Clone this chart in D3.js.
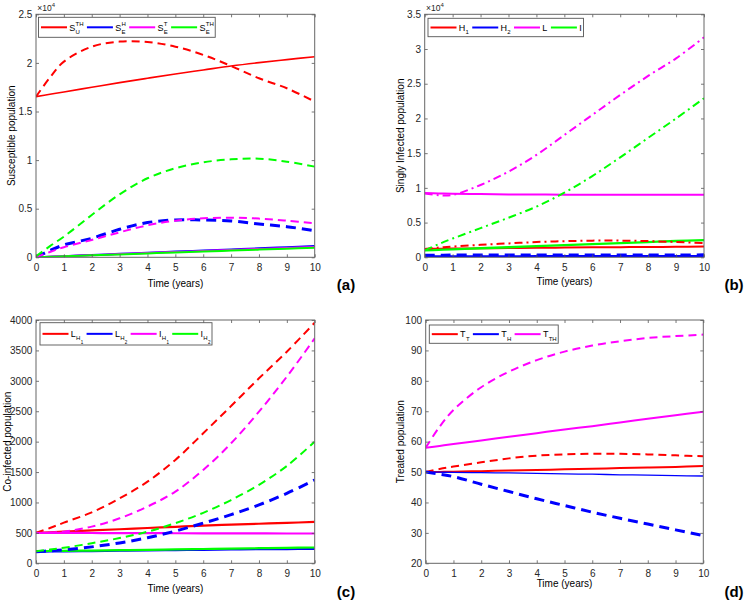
<!DOCTYPE html>
<html><head><meta charset="utf-8">
<script src="https://cdn.jsdelivr.net/npm/d3@7"></script>
<style>body{margin:0;background:#fff} svg{display:block} text{font-family:"Liberation Sans", Arial, Helvetica, sans-serif;}</style>
</head><body>
<svg id="chart" width="746" height="600"></svg>
<script>
// time grid (years)
const t = [0, 0.5, 1, 2, 3, 4, 5, 6, 7, 8, 9, 10];
const xTicks = [0,1,2,3,4,5,6,7,8,9,10];

// Panel (a) Susceptible population
const aYTicks = [0, 5000, 10000, 15000, 20000, 25000];
const aSUsolid  = [16530, 16770, 17010, 17490, 17970, 18420, 18860, 19270, 19680, 20030, 20340, 20640];
const aSEHsolid = [0, 60, 120, 240, 360, 480, 590, 700, 810, 920, 1040, 1160];
const aSETsolid = [0, 55, 110, 220, 330, 440, 545, 650, 760, 860, 960, 1060];
const aSETHsolid= [0, 50, 100, 200, 300, 400, 500, 590, 690, 790, 890, 990];
const aSUdash   = [16530, 18500, 20130, 21670, 22190, 22150, 21670, 20820, 19680, 18420, 17390, 16020];
const aSEHdash  = [0, 700, 1270, 1955, 2880, 3570, 3840, 3840, 3740, 3430, 3150, 2740];
const aSETdash  = [0, 550, 1030, 1780, 2570, 3290, 3770, 4010, 4080, 3980, 3770, 3500];
const aSETHdash = [100, 1150, 2126, 4355, 6480, 8130, 9160, 9770, 10080, 10150, 9840, 9330];

// Panel (b) Singly infected population
const bYTicks = [0, 5000, 10000, 15000, 20000, 25000, 30000, 35000];
const bH1solid = [1200, 1225, 1250, 1290, 1330, 1370, 1400, 1430, 1460, 1490, 1510, 1540];
const bH2solid = [150, 150, 155, 160, 165, 170, 172, 175, 178, 180, 180, 180];
const bLsolid  = [9250, 9200, 9150, 9100, 9060, 9040, 9020, 9010, 9000, 9000, 9000, 9000];
const bIsolid  = [1000, 1075, 1150, 1300, 1450, 1600, 1750, 1900, 2050, 2200, 2350, 2480];
const bH1dash  = [1200, 1400, 1550, 1800, 2000, 2200, 2320, 2400, 2400, 2330, 2200, 2050];
const bH2dash  = [300, 310, 315, 320, 325, 330, 335, 340, 340, 345, 345, 350];
const bLdash   = [9200, 8950, 8980, 10420, 12340, 14740, 17620, 20500, 23380, 26120, 28660, 31680];
const bIdash   = [1000, 1900, 2700, 4200, 5700, 7300, 9300, 11700, 14400, 17200, 20000, 22900];

// Panel (c) Co-infected population
const cYTicks = [0, 500, 1000, 1500, 2000, 2500, 3000, 3500, 4000];
const cLH1solid = [500, 510, 520, 540, 560, 580, 600, 620, 635, 650, 665, 680];
const cLH2solid = [190, 192, 195, 200, 205, 210, 215, 220, 225, 230, 233, 237];
const cIH1solid = [500, 500, 500, 498, 496, 495, 494, 493, 492, 491, 490, 490];
const cIH2solid = [200, 202, 205, 210, 215, 220, 228, 235, 242, 248, 254, 260];
const cLH1dash  = [500, 580, 668, 838, 1068, 1342, 1699, 2137, 2586, 3041, 3479, 3956];
const cLH2dash  = [190, 205, 220, 270, 335, 420, 530, 660, 800, 960, 1150, 1370];
const cIH1dash  = [500, 505, 520, 603, 740, 932, 1178, 1534, 1973, 2493, 3068, 3699];
const cIH2dash  = [200, 225, 255, 330, 415, 520, 660, 830, 1040, 1290, 1600, 2000];

// Panel (d) Treated population
const dYTicks = [20, 30, 40, 50, 60, 70, 80, 90, 100];
const dTTsolid  = [50, 50.05, 50.1, 50.3, 50.5, 50.7, 50.9, 51.1, 51.3, 51.5, 51.7, 52];
const dTHsolid  = [50, 49.95, 49.9, 49.8, 49.7, 49.6, 49.4, 49.3, 49.1, 49, 48.8, 48.7];
const dTTHsolid = [58, 58.6, 59.2, 60.4, 61.6, 62.8, 64, 65.1, 66.3, 67.5, 68.7, 69.8];
const dTTdash   = [50, 51, 51.8, 53.2, 54.5, 55.4, 55.8, 56, 56, 55.8, 55.5, 55.2];
const dTHdash   = [50, 49.3, 48.5, 46, 43.6, 41.2, 39, 36.8, 34.8, 32.9, 31, 29.1];
const dTTHdash  = [58, 64.9, 70.4, 77.9, 83.0, 86.8, 89.6, 91.6, 93.0, 94.1, 94.7, 95.2];

const RED = '#ff0000', BLUE = '#0000ff', MAG = '#ff00ff', GREEN = '#00ff00';
const DASH = '8,5', DASHB = '10,6', DASHDOT = '8,4,2,4';

const svg = d3.select('#chart');

function drawLabel(g, lab, x, yb) {
  const tb = g.append('text').attr('x', x).attr('y', yb).attr('font-size', 9).attr('fill', '#000').text(lab.b);
  const w = tb.node().getComputedTextLength();
  let end = x + w, sx = x + w + 0.3, e1 = sx, e2 = sx;
  if (lab.sup) {
    const s = g.append('text').attr('x', sx).attr('y', yb - 5).attr('font-size', 6).text(lab.sup);
    e1 = sx + s.node().getComputedTextLength();
  }
  if (lab.sub) {
    const s = g.append('text').attr('x', sx).attr('y', yb + 3.4).attr('font-size', 6).text(lab.sub);
    e2 = sx + s.node().getComputedTextLength();
    if (lab.sub2) {
      const s2 = g.append('text').attr('x', e2 + 0.3).attr('y', yb + 6.5).attr('font-size', 4.5).text(lab.sub2);
      e2 += 0.3 + s2.node().getComputedTextLength();
    }
  }
  return Math.max(end, e1, e2);
}

function panel(cfg, idx) {
  const x = d3.scaleLinear().domain([0, 10]).range([cfg.l, cfg.r]);
  const y = d3.scaleLinear().domain(cfg.yd).range([cfg.b, cfg.t]);
  const g = svg.append('g');
  const cid = 'clip' + idx;
  svg.append('clipPath').attr('id', cid).append('rect')
    .attr('x', cfg.l).attr('y', cfg.t).attr('width', cfg.r - cfg.l).attr('height', cfg.b - cfg.t);
  const line = d3.line().x((d, i) => x(t[i])).y(d => y(d)).curve(d3.curveCatmullRom.alpha(0.5));
  const lg = g.append('g').attr('clip-path', `url(#${cid})`);
  cfg.series.forEach(s => {
    lg.append('path').attr('d', line(s.data)).attr('fill', 'none')
      .attr('stroke', s.c).attr('stroke-width', s.w || 2)
      .attr('stroke-dasharray', s.dash || null);
  });
  // axes
  const ax = g.append('g').attr('color', '#555').attr('font-size', 8.5);
  const styleAx = sel => { sel.select('.domain').remove(); sel.selectAll('text').attr('fill', '#262626').attr('font-family', '"Liberation Sans", Arial, sans-serif'); sel.selectAll('line').attr('stroke-width', 0.8); };
  ax.append('g').attr('transform', `translate(0,${cfg.b})`).call(d3.axisBottom(x).tickValues(xTicks).tickSize(-3).tickPadding(6.5).tickFormat(d => String(d))).call(styleAx);
  ax.append('g').attr('transform', `translate(0,${cfg.t})`).call(d3.axisTop(x).tickValues(xTicks).tickSize(-3).tickFormat('')).call(styleAx);
  ax.append('g').attr('transform', `translate(${cfg.l},0)`).call(d3.axisLeft(y).tickValues(cfg.yt).tickSize(-3).tickPadding(3.7).tickFormat(cfg.fmt)).call(styleAx);
  ax.append('g').attr('transform', `translate(${cfg.r},0)`).call(d3.axisRight(y).tickValues(cfg.yt).tickSize(-3).tickFormat('')).call(styleAx);
  g.append('rect').attr('x', cfg.l).attr('y', cfg.t).attr('width', cfg.r - cfg.l).attr('height', cfg.b - cfg.t)
    .attr('fill', 'none').attr('stroke', '#666').attr('stroke-width', 1);
  if (cfg.exp) {
    const et = g.append('text').attr('x', cfg.l + 1.3).attr('y', cfg.t - 3.3).attr('font-size', 8.5).attr('fill', '#262626');
    et.append('tspan').text('×10');
    et.append('tspan').attr('font-size', 6).attr('dy', -4).text('4');
  }
  // labels
  g.append('text').attr('transform', `translate(${cfg.ylx},${(cfg.t + cfg.b) / 2}) rotate(-90)`)
    .attr('text-anchor', 'middle').attr('dy', '0.35em').attr('font-size', 10).attr('fill', '#000').text(cfg.ylabel);
  g.append('text').attr('x', (cfg.l + cfg.r) / 2).attr('y', cfg.xly).attr('text-anchor', 'middle')
    .attr('font-size', 10).attr('fill', '#000').text('Time (years)');
  g.append('text').attr('x', cfg.pl[0]).attr('y', cfg.pl[1]).attr('text-anchor', 'middle')
    .attr('font-family', '"Liberation Serif", "Times New Roman", serif').attr('font-weight', 'bold')
    .attr('font-size', 15).attr('fill', '#000').text(cfg.plabel);
  // legend
  const L = cfg.leg;
  const legG = g.append('g');
  const box = legG.append('rect');
  const cy = L.top + L.h / 2;
  let cx = cfg.l + L.dx + 2.5;
  const cont = legG.append('g');
  L.items.forEach((it, i) => {
    cont.append('line').attr('x1', cx).attr('x2', cx + 26).attr('y1', cy).attr('y2', cy)
      .attr('stroke', it.c).attr('stroke-width', 2);
    cx += 26 + 2.3;
    const e = drawLabel(cont, it.lab, cx, cy + 3.2);
    cx = e + (i < L.items.length - 1 ? 3.3 : 1.5);
  });
  box.attr('x', cfg.l + L.dx).attr('y', L.top).attr('width', cx - (cfg.l + L.dx)).attr('height', L.h)
    .attr('fill', '#fff').attr('stroke', '#555').attr('stroke-width', 0.9);
}

const fmt4 = d => String(d / 10000);
const fmtN = d => String(d);

panel({
  l: 36, r: 314.7, t: 14.3, b: 257.3, yd: [0, 25000], yt: aYTicks, fmt: fmt4, exp: true,
  ylabel: 'Susceptible population', ylx: 11.5, xly: 286.5, pl: [346, 290], plabel: '(a)',
  series: [
    {data: aSUsolid, c: RED, w: 1.6}, {data: aSEHsolid, c: BLUE, w: 2}, {data: aSETsolid, c: MAG, w: 2}, {data: aSETHsolid, c: GREEN, w: 2},
    {data: aSUdash, c: RED, dash: DASH}, {data: aSEHdash, c: BLUE, w: 3, dash: DASHB}, {data: aSETdash, c: MAG, dash: DASH}, {data: aSETHdash, c: GREEN, dash: DASH}
  ],
  leg: {dx: 2.5, top: 17.3, h: 20, items: [
    {c: RED, lab: {b: 'S', sup: 'TH', sub: 'U'}}, {c: BLUE, lab: {b: 'S', sup: 'H', sub: 'E'}},
    {c: MAG, lab: {b: 'S', sup: 'T', sub: 'E'}}, {c: GREEN, lab: {b: 'S', sup: 'TH', sub: 'E'}}]}
}, 0);

panel({
  l: 424.7, r: 704, t: 14.3, b: 257.3, yd: [0, 35000], yt: bYTicks, fmt: fmt4, exp: true,
  ylabel: 'Singly Infected population', ylx: 400.5, xly: 285, pl: [734, 290], plabel: '(b)',
  series: [
    {data: bH1solid, c: RED, w: 2}, {data: bH2solid, c: BLUE, w: 2}, {data: bLsolid, c: MAG, w: 2}, {data: bIsolid, c: GREEN, w: 2.3},
    {data: bH1dash, c: RED, dash: DASHDOT}, {data: bH2dash, c: BLUE, w: 3, dash: DASHB}, {data: bLdash, c: MAG, dash: DASHDOT}, {data: bIdash, c: GREEN, dash: DASHDOT}
  ],
  leg: {dx: 3.3, top: 18.3, h: 18.4, items: [
    {c: RED, lab: {b: 'H', sub: '1'}}, {c: BLUE, lab: {b: 'H', sub: '2'}},
    {c: MAG, lab: {b: 'L'}}, {c: GREEN, lab: {b: 'I'}}]}
}, 1);

panel({
  l: 36, r: 314.7, t: 320, b: 563.3, yd: [0, 4000], yt: cYTicks, fmt: fmtN, exp: false,
  ylabel: 'Co-infected population', ylx: 7.5, xly: 591.5, pl: [346, 597], plabel: '(c)',
  series: [
    {data: cLH1solid, c: RED, w: 2.2}, {data: cLH2solid, c: BLUE, w: 2}, {data: cIH1solid, c: MAG, w: 2.2}, {data: cIH2solid, c: GREEN, w: 2.2},
    {data: cLH1dash, c: RED, dash: DASH}, {data: cLH2dash, c: BLUE, w: 3, dash: DASHB}, {data: cIH1dash, c: MAG, dash: DASH}, {data: cIH2dash, c: GREEN, dash: DASH}
  ],
  leg: {dx: 4, top: 322.7, h: 22.3, items: [
    {c: RED, lab: {b: 'L', sub: 'H', sub2: '1'}}, {c: BLUE, lab: {b: 'L', sub: 'H', sub2: '2'}},
    {c: MAG, lab: {b: 'I', sub: 'H', sub2: '1'}}, {c: GREEN, lab: {b: 'I', sub: 'H', sub2: '2'}}]}
}, 2);

panel({
  l: 425.7, r: 703.3, t: 320, b: 563.3, yd: [20, 100], yt: dYTicks, fmt: fmtN, exp: false,
  ylabel: 'Treated population', ylx: 400.5, xly: 586.5, pl: [734, 597], plabel: '(d)',
  series: [
    {data: dTTsolid, c: RED, w: 2}, {data: dTHsolid, c: BLUE, w: 1.3}, {data: dTTHsolid, c: MAG, w: 2},
    {data: dTTdash, c: RED, dash: DASH}, {data: dTHdash, c: BLUE, w: 3, dash: DASHB}, {data: dTTHdash, c: MAG, dash: DASH}
  ],
  leg: {dx: 3.6, top: 325, h: 18.3, items: [
    {c: RED, lab: {b: 'T', sub: 'T'}}, {c: BLUE, lab: {b: 'T', sub: 'H'}}, {c: MAG, lab: {b: 'T', sub: 'TH'}}]}
}, 3);
</script>
</body></html>
